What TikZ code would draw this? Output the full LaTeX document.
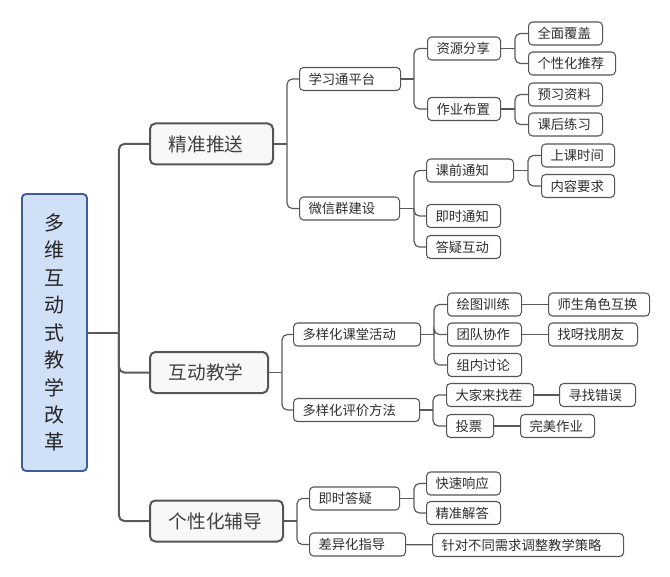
\documentclass[tikz,border=0pt]{standalone}
\usepackage{fontspec}
\setmainfont{Noto Sans CJK SC}
\usetikzlibrary{positioning}

\definecolor{rootfill}{HTML}{CFE0F7}
\definecolor{rootline}{HTML}{3D5C99}
\definecolor{boxline}{HTML}{555555}
\definecolor{topicfill}{HTML}{F8F8F8}
\definecolor{linkgray}{HTML}{5A5A5A}

\begin{document}
\begin{tikzpicture}[
    x=0.75pt, y=-0.75pt,
    rootbox/.style={
        rectangle,
        rounded corners=3pt,
        draw=rootline,
        line width=1.4pt,
        fill=rootfill,
        minimum width=48.75pt,
        minimum height=207.75pt,
        inner sep=0pt,
        align=center,
        text=black!85,
        font=\fontsize{15pt}{20.6pt}\selectfont
    },
    topicbox/.style={
        rectangle,
        rounded corners=4pt,
        draw=boxline,
        line width=1.5pt,
        fill=topicfill,
        anchor=west,
        minimum height=30.75pt,
        inner xsep=14pt,
        text width=#1,
        align=left,
        text=black!75,
        font=\fontsize{14pt}{17pt}\selectfont
    },
    itembox/.style={
        rectangle,
        rounded corners=3pt,
        draw=boxline,
        line width=0.8pt,
        fill=white,
        anchor=west,
        minimum height=17.25pt,
        inner xsep=6.75pt,
        inner ysep=1pt,
        text width=#1,
        align=left,
        text=black!82,
        font=\fontsize{10pt}{12pt}\selectfont
    },
    trunkline/.style={
        draw=linkgray,
        line width=1.5pt,
        rounded corners=4pt
    },
    linkline/.style={
        draw=linkgray,
        line width=0.9pt,
        rounded corners=4pt
    }
]

\useasboundingbox (0,0) rectangle (670,577);

% Root
\node[rootbox] (root) at (54.5,332.5) {多\\维\\互\\动\\式\\教\\学\\改\\革};

% Precise push
\node[topicbox=64.25pt] (push) at (149,144) {精准推送};
\node[itembox=62.25pt] (xxt) at (299,79) {学习通平台};
\node[itembox=61.5pt] (wx) at (299,208.5) {微信群建设};
\node[itembox=41.25pt] (share) at (427,48.5) {资源分享};
\node[itembox=41.25pt] (hw) at (427,109) {作业布置};
\node[itembox=42pt] (cover) at (528,33.5) {全面覆盖};
\node[itembox=51.75pt] (rec) at (528,63.5) {个性化推荐};
\node[itembox=42pt] (prev) at (528,94.5) {预习资料};
\node[itembox=42pt] (prac) at (528,124.5) {课后练习};
\node[itembox=51.75pt] (pre) at (426,170.5) {课前通知};
\node[itembox=42pt] (now) at (426,216) {即时通知};
\node[itembox=42pt] (qa) at (426,247) {答疑互动};
\node[itembox=41.25pt] (time) at (541,155.5) {上课时间};
\node[itembox=41.25pt] (req) at (541,186) {内容要求};

% Interactive teaching
\node[topicbox=60.5pt] (inter) at (149,372.5) {互动教学};
\node[itembox=81.75pt] (act) at (293,334.5) {多样化课堂活动};
\node[itembox=81pt] (eval) at (293,410) {多样化评价方法};
\node[itembox=42pt] (paint) at (447,304.5) {绘图训练};
\node[itembox=42pt] (team) at (447,334.5) {团队协作};
\node[itembox=42pt] (disc) at (447,365) {组内讨论};
\node[itembox=62.25pt] (swap) at (548,304.5) {师生角色互换};
\node[itembox=53.25pt] (friend) at (548,334.5) {找呀找朋友};
\node[itembox=51.75pt] (spot) at (446,395) {大家来找茬};
\node[itembox=21.75pt] (vote) at (446,426) {投票};
\node[itembox=43.5pt] (err) at (559,395) {寻找错误};
\node[itembox=42pt] (best) at (520,426) {完美作业};

% Personal tutoring
\node[topicbox=71.75pt] (tutor) at (149,521) {个性化辅导};
\node[itembox=54pt] (ans) at (309,498.5) {即时答疑};
\node[itembox=58.5pt] (diff) at (309,544.5) {差异化指导};
\node[itembox=42pt] (fast) at (426,483.5) {快速响应};
\node[itembox=42pt] (exact) at (426,513) {精准解答};
\node[itembox=129.75pt] (adj) at (432,545) {针对不同需求调整教学策略};

% Connectors
\draw[trunkline] (root.east) -- ++(31,0) coordinate (jroot);
\foreach \c in {push,inter,tutor} \draw[trunkline] (jroot) |- (\c.west);

\draw[linkline] (push.east) -- ++(13,0) coordinate (jpush);
\foreach \c in {xxt,wx} \draw[linkline] (jpush) |- (\c.west);
\draw[linkline] (xxt.east) -- ++(13,0) coordinate (jxxt);
\foreach \c in {share,hw} \draw[linkline] (jxxt) |- (\c.west);
\draw[linkline] (share.east) -- ++(14,0) coordinate (jshare);
\foreach \c in {cover,rec} \draw[linkline] (jshare) |- (\c.west);
\draw[linkline] (hw.east) -- ++(14,0) coordinate (jhw);
\foreach \c in {prev,prac} \draw[linkline] (jhw) |- (\c.west);
\draw[linkline] (wx.east) -- ++(14,0) coordinate (jwx);
\foreach \c in {pre,now,qa} \draw[linkline] (jwx) |- (\c.west);
\draw[linkline] (pre.east) -- ++(14,0) coordinate (jpre);
\foreach \c in {time,req} \draw[linkline] (jpre) |- (\c.west);

\draw[linkline] (inter.east) -- ++(13,0) coordinate (jinter);
\foreach \c in {act,eval} \draw[linkline] (jinter) |- (\c.west);
\draw[linkline] (act.east) -- ++(13,0) coordinate (jact);
\foreach \c in {paint,team,disc} \draw[linkline] (jact) |- (\c.west);
\draw[linkline] (eval.east) -- ++(13,0) coordinate (jeval);
\foreach \c in {spot,vote} \draw[linkline] (jeval) |- (\c.west);
\draw[linkline] (paint) -- (swap);
\draw[linkline] (team) -- (friend);
\draw[linkline] (spot) -- (err);
\draw[linkline] (vote) -- (best);

\draw[linkline] (tutor.east) -- ++(13,0) coordinate (jtutor);
\foreach \c in {ans,diff} \draw[linkline] (jtutor) |- (\c.west);
\draw[linkline] (ans.east) -- ++(14,0) coordinate (jans);
\foreach \c in {fast,exact} \draw[linkline] (jans) |- (\c.west);
\draw[linkline] (diff) -- (adj);

\end{tikzpicture}
\end{document}
